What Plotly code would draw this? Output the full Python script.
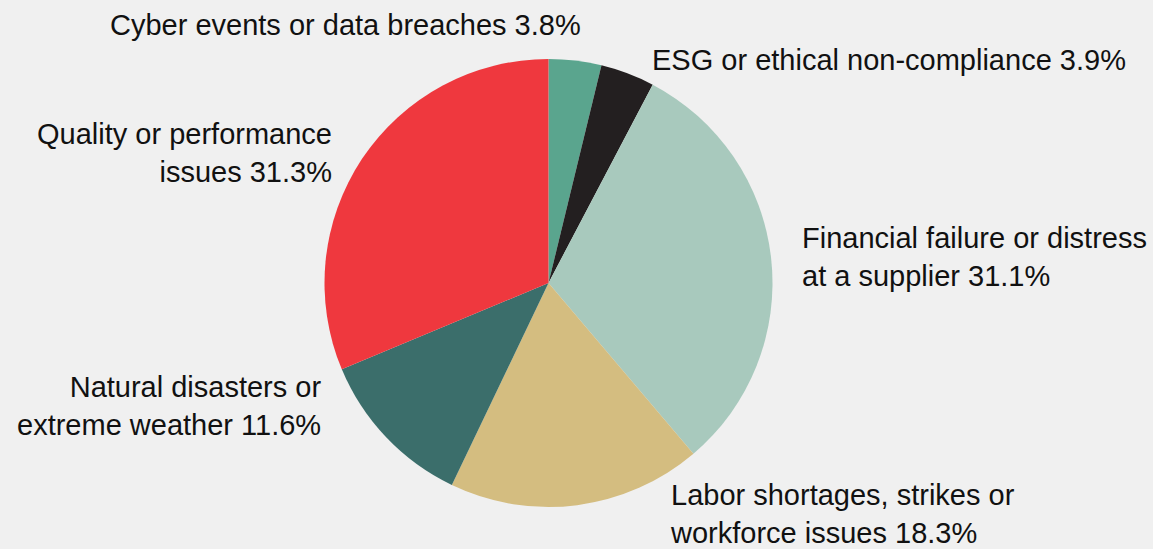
import plotly.graph_objects as go

# Share of respondents naming each supply-chain risk
categories = [
    "Cyber events or data breaches",
    "ESG or ethical non-compliance",
    "Financial failure or distress<br>at a supplier",
    "Labor shortages, strikes or<br>workforce issues",
    "Natural disasters or<br>extreme weather",
    "Quality or performance<br>issues",
]
shares = [3.8, 3.9, 31.1, 18.3, 11.6, 31.3]
colors = ["#5aa58e", "#231f20", "#a8c9bd", "#d4bd80", "#3b6e6b", "#ef383e"]

W, H = 1153, 549

# Label placement in pixels: (x, y centre, side)
label_layout = [
    (583, 25, "right"),
    (650, 60, "left"),
    (800, 257, "left"),
    (668, 514, "left"),
    (323, 406, "right"),
    (334, 153, "right"),
]

cx, cy, r = 548.5, 283, 224

fig = go.Figure(
    go.Pie(
        values=shares,
        labels=categories,
        marker=dict(colors=colors, line=dict(width=0)),
        sort=False,
        direction="clockwise",
        rotation=0,
        textinfo="none",
        hoverinfo="label+percent",
        showlegend=False,
        domain=dict(
            x=[(cx - r) / W, (cx + r) / W],
            y=[(H - cy - r) / H, (H - cy + r) / H],
        ),
    )
)

annotations = []
for name, val, (px, py, side) in zip(categories, shares, label_layout):
    annotations.append(
        dict(
            text=f"{name} {val:.1f}%",
            x=px / W,
            y=1 - py / H,
            xref="paper",
            yref="paper",
            xanchor=side,
            yanchor="middle",
            align=side,
            showarrow=False,
            font=dict(family="Liberation Sans, Arial, sans-serif", size=29, color="#111111"),
        )
    )

fig.update_layout(
    width=W,
    height=H,
    margin=dict(l=0, r=0, t=0, b=0),
    paper_bgcolor="#f0f0f0",
    plot_bgcolor="#f0f0f0",
    annotations=annotations,
)

fig.write_html("out.html")
